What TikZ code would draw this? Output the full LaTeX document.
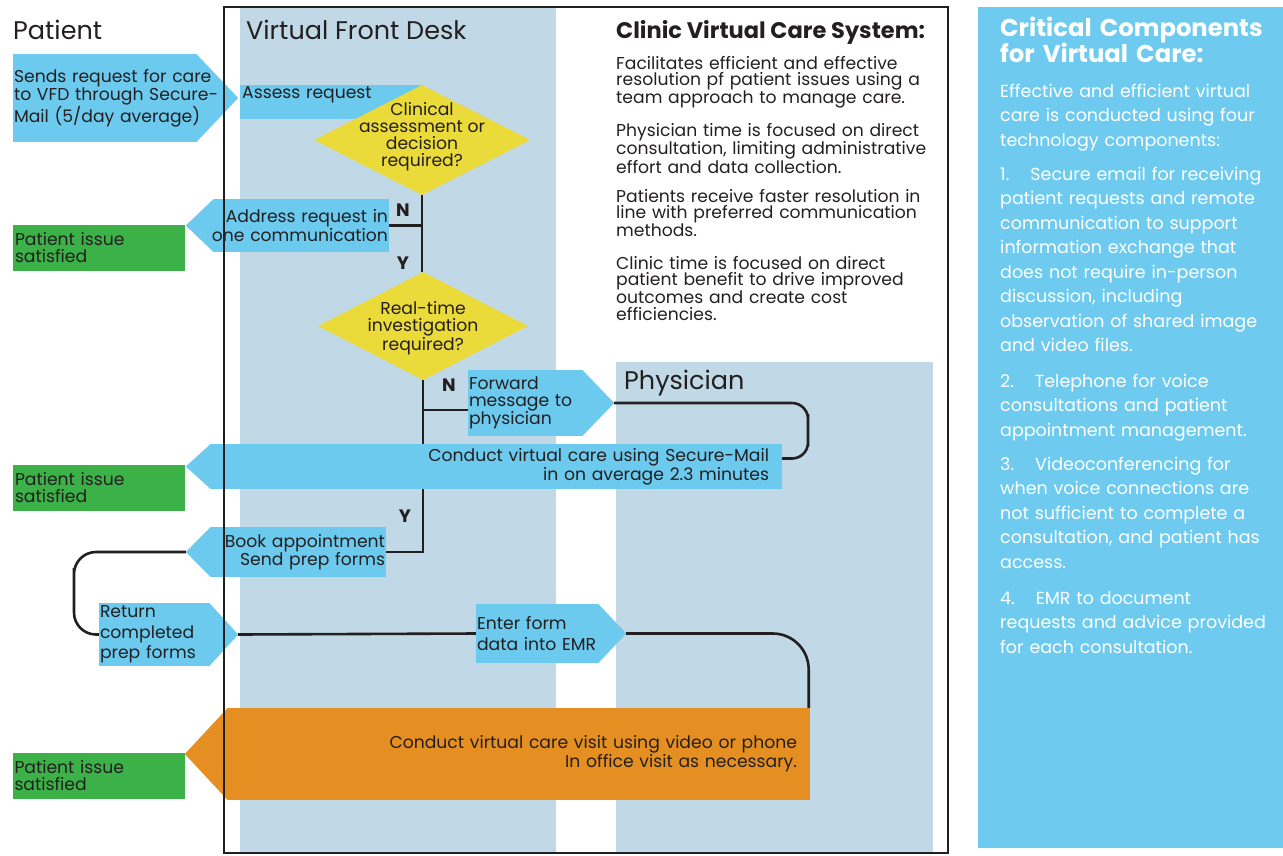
\documentclass[tikz,border=0pt]{standalone}
\usepackage{fontspec}
\setmainfont{Poppins}
\usetikzlibrary{shapes.geometric}
\definecolor{lane}{RGB}{193,217,230}
\definecolor{sky}{RGB}{108,202,238}
\definecolor{panel}{RGB}{110,203,239}
\definecolor{decide}{RGB}{235,219,58}
\definecolor{done}{RGB}{60,177,72}
\definecolor{visit}{RGB}{229,143,34}
\definecolor{ink}{RGB}{35,31,32}
\pgfdeclarelayer{lanes}
\pgfdeclarelayer{tips}
\pgfdeclarelayer{rim}
\pgfsetlayers{lanes,tips,main,rim}
\newcommand\flowsize{\fontsize{17.2}{17}\selectfont}
\newcommand\headsize{\fontsize{25.5}{28}\selectfont}
\newcommand\lefttext[1]{\leavevmode\hbox to\hsize{#1\hss}}
\newcommand\righttext[1]{\leavevmode\hbox to\hsize{\hss#1}}
\begin{document}
\begin{tikzpicture}[x=1pt,y=-1pt,
  every node/.style={text=ink,font=\flowsize,inner sep=0pt},
  box/.style={fill=sky,inner xsep=2pt,inner ysep=0pt},
  sat/.style={fill=done,minimum width=172pt,minimum height=46pt,text width=168pt,inner xsep=2pt},
  query/.style={diamond,fill=decide,inner sep=0pt},
  flow/.style={line width=2.6pt,ink},
  yn/.style={font=\fontsize{18}{18}\selectfont\bfseries},
  head/.style={anchor=base west,font=\headsize},
  note/.style={anchor=base west,align=left,text width=335pt,font=\fontsize{17.2}{16.5}\selectfont},
  crit/.style={anchor=base west,align=left,text width=283pt,text=white,font=\fontsize{17.5}{24.5}\selectfont}]
\useasboundingbox (0,0) rectangle (1283,855);
\begin{pgfonlayer}{lanes}
\fill[panel] (978,7) rectangle (1283,848);
\fill[lane] (240,8) rectangle (556,853);
\fill[lane] (616,362) rectangle (933,853);
\end{pgfonlayer}
\begin{pgfonlayer}{rim}
\draw[line width=1.4pt,ink] (224,7) rectangle (948,853);
\end{pgfonlayer}

\node[head] (patient) at (13,39) {Patient};
\node[head] (vfd) at (246,39) {Virtual Front Desk};
\node[head] (phys) at (624,389) {Physician};

\node[anchor=base west,font=\fontsize{22.5}{24}\selectfont\bfseries] (system) at (616,38) {Clinic Virtual Care System:};
\node[note] (sys1) at (616,69) {Facilitates efficient and effective\\resolution pf patient issues using a\\team approach to manage care.};
\node[note] (sys2) at (616,136) {Physician time is focused on direct\\consultation, limiting administrative\\effort and data collection.};
\node[note] (sys3) at (616,202) {Patients receive faster resolution in\\line with preferred communication\\methods.};
\node[note] (sys4) at (616,269) {Clinic time is focused on direct\\patient benefit to drive improved\\outcomes and create cost\\efficiencies.};

\node[anchor=base west,align=left,text width=283pt,text=white,font=\fontsize{24.3}{21}\selectfont\bfseries] (parts) at (1000,36) {Critical Components\\for Virtual Care:};
\node[crit] (part0) at (1000,97) {Effective and efficient virtual\\care is conducted using four\\technology components:};
\node[crit] (part1) at (1000,180) {1.\hspace{1.2em}Secure email for receiving\\patient requests and remote\\communication to support\\information exchange that\\does not require in-person\\discussion, including\\observation of shared image\\and video files.};
\node[crit] (part2) at (1000,387) {2.\hspace{1.2em}Telephone for voice\\consultations and patient\\appointment management.};
\node[crit] (part3) at (1000,470) {3.\hspace{1.2em}Videoconferencing for\\when voice connections are\\not sufficient to complete a\\consultation, and patient has\\access.};
\node[crit] (part4) at (1000,604) {4.\hspace{1.2em}EMR to document\\requests and advice provided\\for each consultation.};

\node[box,minimum width=183pt,minimum height=88pt,text width=181pt,inner xsep=1pt] (send) at (104.5,98) {\lefttext{Sends request for care}\\\lefttext{to VFD through Secure-}\\\lefttext{Mail (5/day average)}};
\node[box,anchor=north west,minimum width=182pt,text width=178pt,align=left,text height=12pt,text depth=20pt,inner ysep=1pt] (assess) at (240,85) {Assess request};
\node[query,minimum width=216pt,minimum height=110pt] (clin) at (422,140) {};
\node[align=center] (clin text) at (422,137) {Clinical\\assessment or\\decision\\required?};

\node[box,minimum width=175pt,minimum height=53pt,text width=173pt,inner xsep=1pt] (addr) at (301.5,225.5) {\righttext{Address request in}\\\righttext{one communication}};
\node[sat] (ok1) at (99,248) {\lefttext{Patient issue}\\\lefttext{satisfied}};

\node[query,minimum width=210pt,minimum height=108pt] (live) at (423,326) {};
\node[align=center] (live text) at (423,328) {Real-time\\investigation\\required?};

\node[box,minimum width=114pt,minimum height=66pt,text width=112pt,inner xsep=1pt,font=\fontsize{17.2}{16.5}\selectfont] (fwd) at (525,403) {\lefttext{Forward}\\\lefttext{message to}\\\lefttext{physician}};
\node[box,minimum width=571pt,minimum height=45pt,inner xsep=13pt,text width=545pt] (mail) at (496.5,466.5) {\righttext{Conduct virtual care using Secure-Mail}\\\righttext{in on average 2.3 minutes}};
\node[sat] (ok2) at (99,488) {\lefttext{Patient issue}\\\lefttext{satisfied}};

\node[box,minimum width=175pt,minimum height=50pt,text width=173pt,inner xsep=1pt] (book) at (298.5,552) {\righttext{Book appointment}\\\righttext{Send prep forms}};
\node[box,minimum width=110pt,minimum height=63pt,text width=108pt,inner xsep=1pt,font=\fontsize{17.2}{20.5}\selectfont] (ret) at (154,634.5) {\lefttext{Return}\\\lefttext{completed}\\\lefttext{prep forms}};
\node[box,minimum width=122pt,minimum height=59pt,text width=120pt,inner xsep=1pt,font=\fontsize{17.2}{21}\selectfont] (emr) at (537,633.5) {\lefttext{Enter form}\\\lefttext{data into EMR}};

\node[fill=visit,minimum width=582pt,minimum height=92pt,inner xsep=13pt,text width=556pt] (visit) at (519,754) {\righttext{Conduct virtual care visit using video or phone}\\\righttext{In office visit as necessary.}};
\node[sat] (ok3) at (98.5,776) {\lefttext{Patient issue}\\\lefttext{satisfied}};

\begin{pgfonlayer}{tips}
\fill[sky] (send.north east) -- ([xshift=42pt]send.east) coordinate (send tip) -- (send.south east) -- cycle;
\fill[sky] (addr.north west) -- ([xshift=-28pt]addr.west) coordinate (addr tip) -- (addr.south west) -- cycle;
\fill[sky] (fwd.north east) -- ([xshift=32pt]fwd.east) coordinate (fwd tip) -- (fwd.south east) -- cycle;
\fill[sky] (mail.north west) -- ([xshift=-25pt]mail.west) coordinate (mail tip) -- (mail.south west) -- cycle;
\fill[sky] (book.north west) -- ([xshift=-25pt]book.west) coordinate (book tip) -- (book.south west) -- cycle;
\fill[sky] (ret.north east) -- ([xshift=29pt]ret.east) coordinate (ret tip) -- (ret.south east) -- cycle;
\fill[sky] (emr.north east) -- ([xshift=28pt]emr.east) coordinate (emr tip) -- (emr.south east) -- cycle;
\fill[visit] (visit.north west) -- ([xshift=-43pt]visit.west) coordinate (visit tip) -- (visit.south west) -- cycle;
\end{pgfonlayer}

\node[yn] (no1) at (403,210) {N};
\node[yn] (yes1) at (403,263) {Y};
\node[yn] (no2) at (449,385) {N};
\node[yn] (yes2) at (405,516) {Y};

\coordinate (fwd in) at ([yshift=-7pt]fwd.west);
\coordinate (mail in) at ([yshift=8pt]mail.east);
\coordinate (loop a) at (808,430);
\coordinate (loop b) at (74,590);

\draw[flow] (clin.south) -- (clin.south |- live.north);
\draw[flow] (clin.south |- addr.east) -- (addr.east);
\draw[flow] (live.south) -- (live.south |- mail.north);
\draw[flow] (live.south |- fwd in) -- (fwd in);
\draw[flow,rounded corners=16pt] (fwd tip) -| (loop a) |- (mail in);
\draw[flow] (live.south |- mail.south) |- (book.east);
\draw[flow,rounded corners=22pt] (book tip) -| (loop b) |- (ret.west);
\draw[flow] (ret tip) -- (emr.west);
\draw[flow,rounded corners=36pt] (emr tip) -| ([xshift=-1.5pt]visit.north east);
\end{tikzpicture}
\end{document}
